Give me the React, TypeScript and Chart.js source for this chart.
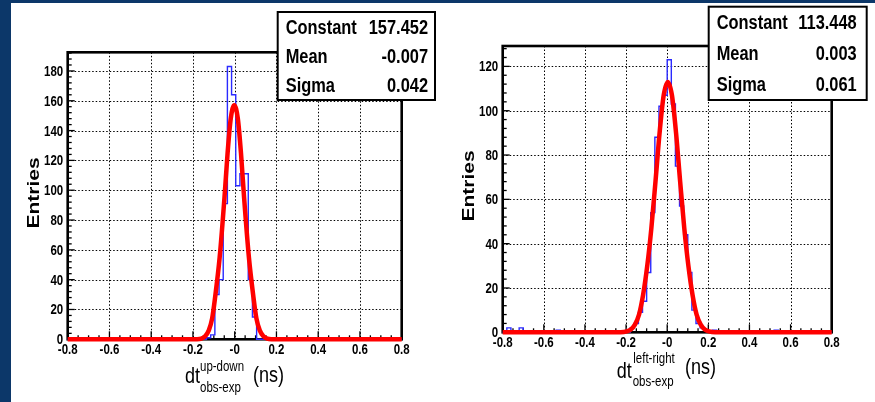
import React, { useEffect, useRef } from 'react';
import { Chart, registerables } from 'chart.js';

Chart.register(...registerables);

// ---------- axis ticks ----------
const xTickValues = [-0.8, -0.6, -0.4, -0.2, 0, 0.2, 0.4, 0.6, 0.8];
const xTickLabels = ['-0.8', '-0.6', '-0.4', '-0.2', '-0', '0.2', '0.4', '0.6', '0.8'];
const xMinorStep = 0.05;
const leftYTicks = [0, 20, 40, 60, 80, 100, 120, 140, 160, 180];
const rightYTicks = [0, 20, 40, 60, 80, 100, 120];
const yMinorStep = 4;

// ---------- histogram data (bin low edge, entries) ----------
const binWidth = 0.02;
const leftBinLow = [-0.135, -0.115, -0.095, -0.075, -0.055, -0.035, -0.015, 0.005, 0.025, 0.045, 0.065, 0.085];
const leftCounts = [1, 3, 30, 40, 91, 183, 164, 103, 111, 111, 40, 15];

const rightBinLow = [-0.78, -0.72, -0.54, -0.18, -0.16, -0.14, -0.12, -0.10, -0.08, -0.06, -0.04, -0.02, 0.0, 0.02, 0.04, 0.06, 0.08, 0.10, 0.12, 0.14, 0.16, 0.18, 0.22, 0.52];
const rightCounts = [2, 2, 1, 2, 4, 9, 14, 27, 54, 88, 102, 107, 123, 103, 75, 57, 44, 27, 10, 4, 2, 1, 1, 1];

// ---------- fitted gaussian curves ----------
const leftFitX = [-0.8, -0.18, -0.16, -0.142, -0.124, -0.108, -0.094, -0.072, -0.049, -0.034, -0.019, -0.002, 0.015, 0.03, 0.045, 0.068, 0.09, 0.104, 0.12, 0.138, 0.156, 0.176, 0.8];
const leftFitY = [0, 0, 0.4, 2, 6, 14, 28, 55, 95, 125, 148, 157, 148, 125, 95, 55, 28, 14, 6, 2, 0.4, 0, 0];

const rightFitX = [-0.8, -0.227, -0.197, -0.177, -0.157, -0.137, -0.117, -0.097, -0.077, -0.057, -0.037, -0.017, 0.003, 0.023, 0.043, 0.063, 0.083, 0.103, 0.123, 0.143, 0.163, 0.183, 0.203, 0.233, 0.8];
const rightFitY = [0, 0, 0.4, 1.3, 3.5, 8, 17, 30, 47, 68, 90, 107, 113, 107, 90, 68, 47, 30, 17, 8, 3.5, 1.3, 0.4, 0, 0];

// ---------- stat boxes ----------
const statNames = ['Constant', 'Mean', 'Sigma'];
const leftStatValues = ['157.452', '-0.007', '0.042'];
const rightStatValues = ['113.448', '0.003', '0.061'];

const SX = 0.82;
const FONT = '"Liberation Sans", Arial, Helvetica, sans-serif';

function histPoints(lows: number[], counts: number[], w: number) {
  const pts: { x: number; y: number }[] = [{ x: -0.8, y: 0 }];
  let prevHigh: number | null = null;
  lows.forEach((lo, i) => {
    if (prevHigh !== null && Math.abs(lo - prevHigh) > 1e-6) pts.push({ x: prevHigh, y: 0 });
    pts.push({ x: lo, y: counts[i] });
    prevHigh = lo + w;
  });
  if (prevHigh !== null) pts.push({ x: prevHigh, y: 0 });
  pts.push({ x: 0.8, y: 0 });
  return pts;
}

function txt(ctx: CanvasRenderingContext2D, s: string, x: number, y: number, font: string, align: CanvasTextAlign, rot = 0) {
  ctx.save();
  ctx.translate(x, y);
  ctx.scale(SX, 1);
  if (rot) ctx.rotate(rot);
  ctx.font = font;
  ctx.textAlign = align;
  ctx.textBaseline = 'alphabetic';
  ctx.fillStyle = '#000';
  ctx.fillText(s, 0, 0);
  ctx.restore();
}

type Cfg = {
  w: number;
  padding: { left: number; right: number; top: number; bottom: number };
  yMax: number;
  yTicks: number[];
  lows: number[];
  counts: number[];
  fitX: number[];
  fitY: number[];
  statValues: string[];
  box: [number, number, number, number];
  valuePad: number;
  entries: [number, number];
  sup: string;
  title: { dt: [number, number]; sup: [number, number]; sub: [number, number]; ns: [number, number] };
};

function makeDecor(cfg: Cfg) {
  return {
    id: 'rootDecor',
    beforeDatasetsDraw(chart: any) {
      const { ctx, chartArea: a, scales } = chart;
      const x = scales.x, y = scales.y;
      ctx.save();
      // dotted grid
      ctx.strokeStyle = '#000';
      ctx.lineWidth = 1;
      ctx.setLineDash([1.5, 2]);
      for (const v of xTickValues) {
        const px = Math.round(x.getPixelForValue(v)) + 0.5;
        if (px <= a.left + 3 || px >= a.right - 3) continue;
        ctx.beginPath(); ctx.moveTo(px, a.top); ctx.lineTo(px, a.bottom); ctx.stroke();
      }
      for (const v of cfg.yTicks) {
        const py = Math.round(y.getPixelForValue(v)) + 0.5;
        if (py >= a.bottom - 3 || py <= a.top + 3) continue;
        ctx.beginPath(); ctx.moveTo(a.left, py); ctx.lineTo(a.right, py); ctx.stroke();
      }
      ctx.setLineDash([]);
      // ticks
      ctx.strokeStyle = '#000';
      ctx.lineWidth = 1.3;
      const nx = Math.round(1.6 / xMinorStep);
      for (let i = 0; i <= nx; i++) {
        const v = -0.8 + i * xMinorStep;
        const major = i % 4 === 0;
        const px = x.getPixelForValue(v);
        ctx.beginPath(); ctx.moveTo(px, a.bottom); ctx.lineTo(px, a.bottom - (major ? 8 : 4)); ctx.stroke();
      }
      for (let v = 0; v <= cfg.yMax; v += yMinorStep) {
        const major = v % 20 === 0;
        const py = y.getPixelForValue(v);
        ctx.beginPath(); ctx.moveTo(a.left, py); ctx.lineTo(a.left + (major ? 7 : 4), py); ctx.stroke();
      }
      // frame
      ctx.lineWidth = 2.6;
      ctx.strokeRect(a.left, a.top, a.right - a.left, a.bottom - a.top);
      ctx.restore();
    },
    afterDraw(chart: any) {
      const { ctx, chartArea: a, scales } = chart;
      const x = scales.x, y = scales.y;
      const tickFont = `bold 14px ${FONT}`;
      xTickValues.forEach((v, i) => {
        txt(ctx, xTickLabels[i], x.getPixelForValue(v), a.bottom + 15, tickFont, 'center');
      });
      cfg.yTicks.forEach((v) => {
        txt(ctx, String(v), a.left - 4.5, y.getPixelForValue(v) + 5, tickFont, 'right');
      });
      // y title
      txt(ctx, 'Entries', cfg.entries[0] + 6, cfg.entries[1], `bold 21px ${FONT}`, 'center', -Math.PI / 2);
      // x title
      const t = cfg.title;
      txt(ctx, 'dt', t.dt[0], t.dt[1], `22px ${FONT}`, 'left');
      txt(ctx, cfg.sup, t.sup[0], t.sup[1], `14px ${FONT}`, 'left');
      txt(ctx, 'obs-exp', t.sub[0], t.sub[1], `14px ${FONT}`, 'left');
      txt(ctx, '(ns)', t.ns[0], t.ns[1], `22px ${FONT}`, 'left');
      // stat box
      const [x0, y0, x1, y1] = cfg.box;
      ctx.save();
      ctx.fillStyle = '#fff';
      ctx.fillRect(x0, y0, x1 - x0, y1 - y0);
      ctx.strokeStyle = '#000';
      ctx.lineWidth = 2;
      ctx.strokeRect(x0, y0, x1 - x0, y1 - y0);
      ctx.restore();
      const rowH = (y1 - y0) / 3;
      statNames.forEach((n, i) => {
        const cy = y0 + rowH * (i + 0.5) + 7;
        txt(ctx, n, x0 + 8, cy, `bold 20px ${FONT}`, 'left');
        txt(ctx, cfg.statValues[i], x1 - cfg.valuePad, cy, `bold 20px ${FONT}`, 'right');
      });
    },
  };
}

function HistPanel({ cfg }: { cfg: Cfg }) {
  const ref = useRef<HTMLCanvasElement>(null);
  useEffect(() => {
    const chart = new Chart(ref.current as HTMLCanvasElement, {
      type: 'line',
      data: {
        datasets: [
          {
            label: 'fit',
            data: cfg.fitX.map((xv, i) => ({ x: xv, y: cfg.fitY[i] })),
            borderColor: '#ff0000',
            borderWidth: 4.5,
            pointRadius: 0,
            cubicInterpolationMode: 'monotone',
            clip: false,
            order: 0,
          } as any,
          {
            label: 'hist',
            data: histPoints(cfg.lows, cfg.counts, binWidth),
            borderColor: '#2a2aff',
            borderWidth: 1.4,
            pointRadius: 0,
            stepped: 'before',
            clip: false,
            order: 1,
          } as any,
        ],
      },
      options: {
        responsive: false,
        animation: false,
        events: [],
        layout: { padding: cfg.padding },
        plugins: { legend: { display: false }, tooltip: { enabled: false }, title: { display: false } },
        scales: {
          x: { type: 'linear', min: -0.8, max: 0.8, display: false },
          y: { type: 'linear', min: 0, max: cfg.yMax, display: false },
        },
      },
      plugins: [makeDecor(cfg)],
    });
    return () => chart.destroy();
  }, []);
  return <canvas ref={ref} width={cfg.w} height={402} style={{ display: 'block' }} />;
}

const leftCfg: Cfg = {
  w: 440,
  padding: { left: 67.7, top: 52.3, right: 38.3, bottom: 62.7 },
  yMax: 192.5,
  yTicks: leftYTicks,
  lows: leftBinLow,
  counts: leftCounts,
  fitX: leftFitX,
  fitY: leftFitY,
  statValues: leftStatValues,
  box: [277.7, 12, 435, 100],
  valuePad: 7,
  entries: [32.5, 193],
  sup: 'up-down',
  title: { dt: [185, 383], sup: [200, 371], sub: [200, 392], ns: [253, 382] },
};

const rightCfg: Cfg = {
  w: 435,
  padding: { left: 62.7, top: 46, right: 43.3, bottom: 69.7 },
  yMax: 129.2,
  yTicks: rightYTicks,
  lows: rightBinLow,
  counts: rightCounts,
  fitX: rightFitX,
  fitY: rightFitY,
  statValues: rightStatValues,
  box: [268.7, 6.7, 426.7, 100],
  valuePad: 10,
  entries: [27.5, 186],
  sup: 'left-right',
  title: { dt: [176.7, 378], sup: [193.3, 363], sub: [192.7, 385.5], ns: [245, 374] },
};

export default function App() {
  return (
    <div style={{ position: 'fixed', left: 0, top: 0, width: 875, height: 402, background: '#0c3769', overflow: 'hidden' }}>
      <div style={{ position: 'absolute', left: 11, top: 3, right: 0, bottom: 0, background: '#ffffff' }} />
      <div style={{ position: 'absolute', left: 0, top: 0, width: 440, height: 402 }}>
        <HistPanel cfg={leftCfg} />
      </div>
      <div style={{ position: 'absolute', left: 440, top: 0, width: 435, height: 402 }}>
        <HistPanel cfg={rightCfg} />
      </div>
    </div>
  );
}
